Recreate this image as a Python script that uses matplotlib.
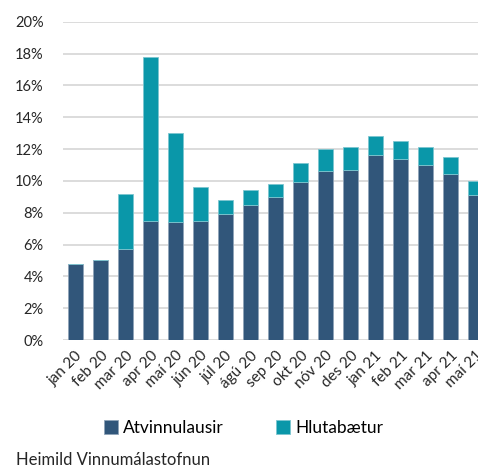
import numpy as np
import matplotlib
matplotlib.use("Agg")
import matplotlib.pyplot as plt
from matplotlib.ticker import FuncFormatter

plt.rcParams['font.family'] = ['Lato', 'DejaVu Sans']

# Data (% of labour force)
months = ['jan 20', 'feb 20', 'mar 20', 'apr 20', 'maí 20', 'jún 20', 'júl 20',
          'ágú 20', 'sep 20', 'okt 20', 'nóv 20', 'des 20', 'jan 21', 'feb 21',
          'mar 21', 'apr 21', 'maí 21']
atvinnulausir = [4.8, 5.0, 5.7, 7.5, 7.4, 7.5, 7.9, 8.5, 9.0, 9.9, 10.6, 10.7,
                 11.6, 11.4, 11.0, 10.4, 9.1]
total = [4.8, 5.0, 9.2, 17.8, 13.0, 9.6, 8.8, 9.4, 9.8, 11.1, 12.0, 12.1,
         12.8, 12.5, 12.1, 11.5, 10.0]
hlutabaetur = [t - a for t, a in zip(total, atvinnulausir)]

dark = '#31567a'
teal = '#0a97a9'

fig = plt.figure(figsize=(4.78, 4.71), dpi=100)
W, H = 478, 471
ax = fig.add_axes([63 / W, (H - 340) / H, 425 / W, 318.3 / H])

x = np.arange(len(months))
ax.bar(x, atvinnulausir, width=0.58, color=dark, edgecolor='#8fa3b8', linewidth=0.6,
       label='Atvinnulausir', zorder=3)
ax.bar(x, hlutabaetur, bottom=atvinnulausir, width=0.58, color=teal,
       edgecolor='#7cc6d0', linewidth=0.6, label='Hlutabætur', zorder=3)

ax.set_xlim(-0.5, len(months) - 0.5)
ax.set_ylim(0, 20)
ax.set_yticks(np.arange(0, 21, 2))
ax.yaxis.set_major_formatter(FuncFormatter(lambda v, p: f'{v:.0f}%'))
ax.yaxis.grid(True, color='#d9d9d9', linewidth=1.3, zorder=0)
ax.set_axisbelow(True)
for s in ax.spines.values():
    s.set_visible(False)
ax.tick_params(axis='both', length=0, labelsize=10.5, colors='#262626')
ax.tick_params(axis='y', pad=14)
ax.set_xticks(x)
ax.set_xticklabels(months, rotation=45, ha='right', rotation_mode='anchor', fontsize=11)
ax.tick_params(axis='x', pad=6)

fig.legend(loc='center', bbox_to_anchor=(0.51, (H - 428) / H), ncol=2, frameon=False,
           fontsize=12.5, handlelength=0.8, handleheight=0.8, handletextpad=0.3,
           columnspacing=3.0)
fig.text(16 / W, (H - 460) / H, 'Heimild Vinnumálastofnun', fontsize=12,
         va='center', ha='left', color='#262626')

fig.savefig('out.png', dpi=100)
